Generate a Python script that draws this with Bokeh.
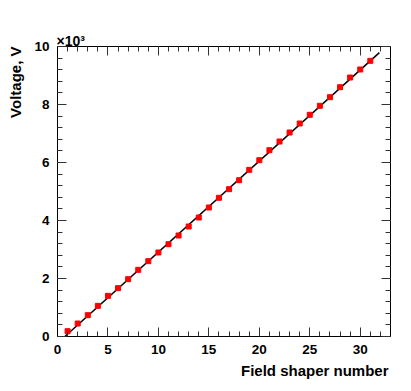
import numpy as np
from bokeh.plotting import figure
from bokeh.models import (FixedTicker, LinearAxis, Range1d, Title,
                          CustomJSTickFormatter, ColumnDataSource)
from bokeh.embed import file_html
from bokeh.resources import INLINE

# ---- data ----
shaper_number = [1, 2, 3, 4, 5, 6, 7, 8, 9, 10,
                 11, 12, 13, 14, 15, 16, 17, 18, 19, 20,
                 21, 22, 23, 24, 25, 26, 27, 28, 29, 30, 31]
voltage = [183, 448, 735, 1057, 1402, 1667, 1977, 2299, 2598, 2897,
           3183, 3483, 3793, 4103, 4448, 4782, 5080, 5390, 5747, 6080,
           6425, 6724, 7034, 7345, 7645, 7955, 8252, 8597, 8931, 9207, 9506]
fit_slope = 314.0
fit_intercept = -229.0
fit_x = [0.73, 31.9]
x_major = [0, 5, 10, 15, 20, 25, 30]
x_minor = list(range(0, 34))
y_major = [0, 2000, 4000, 6000, 8000, 10000]
y_minor = list(range(0, 10001, 400))
X_MAX, Y_MAX = 33, 10000

FONT = "Liberation Sans"

p = figure(width=410, height=390, output_backend="svg", toolbar_location=None,
           x_range=Range1d(0, X_MAX), y_range=Range1d(0, Y_MAX),
           min_border_left=57, min_border_right=20,
           min_border_top=46, min_border_bottom=54,
           x_axis_type=None, y_axis_type=None)
p.grid.visible = False
p.outline_line_color = "black"
p.outline_line_width = 1
p.background_fill_color = "white"
p.border_fill_color = "white"

def style(ax, show_labels):
    ax.major_tick_in = 9
    ax.major_tick_out = 0
    ax.minor_tick_in = 5
    ax.minor_tick_out = 0
    ax.axis_line_color = "black"
    ax.major_tick_line_color = "#333333"
    ax.minor_tick_line_color = "#333333"
    ax.major_label_standoff = 8 if show_labels else 0
    ax.major_label_text_font = FONT
    ax.major_label_text_font_style = "bold"
    ax.major_label_text_font_size = "13.5px"
    ax.major_label_text_color = "black"

xt = FixedTicker(ticks=x_major, minor_ticks=x_minor)
yt = FixedTicker(ticks=y_major, minor_ticks=y_minor)
yfmt = CustomJSTickFormatter(code="return (tick/1000).toFixed(0);")
blank = CustomJSTickFormatter(code="return '';")

xb = LinearAxis(ticker=xt); style(xb, True)
xa = LinearAxis(ticker=xt, formatter=blank); style(xa, False)
yl = LinearAxis(ticker=yt, formatter=yfmt); style(yl, True)
yr = LinearAxis(ticker=yt, formatter=blank); style(yr, False)
p.add_layout(xb, "below")
p.add_layout(xa, "above")
p.add_layout(yl, "left")
p.add_layout(yr, "right")

# y-axis title, aligned with the top end of the axis (ROOT style)
p.add_layout(Title(text="Voltage, V", align="right", offset=0,
                   standoff=11, vertical_align="top",
                   text_font=FONT, text_font_style="bold",
                   text_font_size="15px", text_color="black"), "left")

# fit line
fx = np.array(fit_x)
p.line(fx, fit_slope * fx + fit_intercept, line_color="black", line_width=1.5)

# points
src = ColumnDataSource(dict(x=shaper_number, y=voltage))
p.scatter("x", "y", source=src, marker="square", size=5,
          fill_color="red", line_color="red")

# x-axis title
p.add_layout(Title(text="Field shaper number", align="right", offset=2,
                   standoff=7, text_font=FONT, text_font_style="bold",
                   text_font_size="15px", text_color="black"), "below")

# exponent marker of the y axis
exp_title = Title(text="\u00d710\u00b3", align="left", offset=-1,
                  standoff=0, text_font=FONT, text_font_style="bold",
                  text_font_size="14px", text_color="black")
try:
    exp_title.standoff = -4
except Exception:
    pass
p.add_layout(exp_title, "above")

open("out.html", "w").write(file_html(p, INLINE))
